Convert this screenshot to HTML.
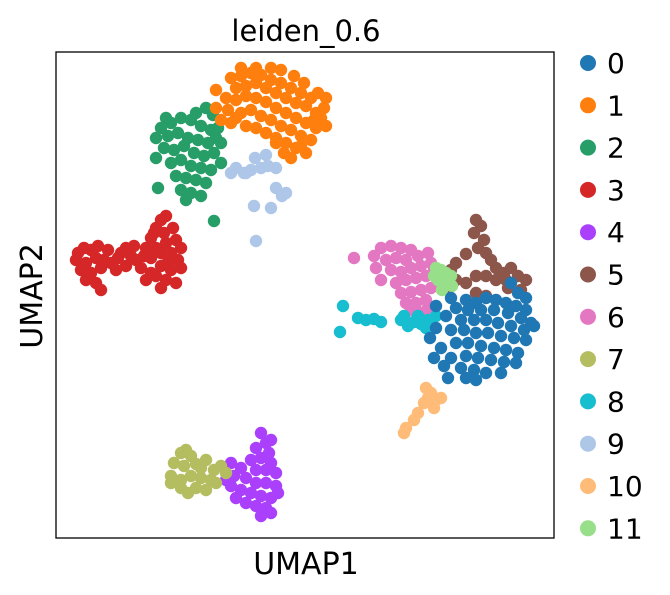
<!DOCTYPE html>
<html><head><meta charset="utf-8"><style>
html,body{margin:0;padding:0;background:#fff;}
svg{display:block;font-family:"DejaVu Sans","Liberation Sans",sans-serif;}
</style></head><body>
<svg id="chart" width="670" height="595">
<text x="306" y="41" text-anchor="middle" font-size="29" fill="#000">leiden_0.6</text>
<g id="points"></g>
<rect x="56" y="52" width="498" height="486" fill="none" stroke="#000" stroke-width="1.3"/>
<text x="306" y="574" text-anchor="middle" font-size="30" fill="#000">UMAP1</text>
<text x="0" y="0" transform="translate(42,296) rotate(-90)" text-anchor="middle" font-size="30" fill="#000">UMAP2</text>
<g id="legend"></g>
</svg>
<script>
const clusterNames=["0","1","2","3","4","5","6","7","8","9","10","11"];
const clusterColors=["#1f77b4","#ff7f0e","#279e68","#d62728","#aa40fc","#8c564b","#e377c2","#b5bd61","#17becf","#aec7e8","#ffbb78","#98df8a"];
const c3=[[22,285],[28,290],[35,288],[42,292],[20,278],[30,275],[40,280],[48,278],[25,268],[35,265],[45,270],[55,275],[62,280],[70,290],[78,292],[60,268],[70,272],[80,278],[88,282],[40,255],[45,248],[30,258],[95,300],[100,310],[105,318],[110,322],[100,290],[110,295],[120,298],[125,290],[90,290],[95,280],[105,285],[115,285],[122,278],[85,270],[95,265],[105,272],[115,268],[125,270],[90,258],[100,262],[110,258],[120,255],[105,250],[98,305],[108,305],[75,282],[52,288],[65,285],[117,310],[112,276]];
const c2=[[105,410],[115,415],[125,420],[135,418],[145,412],[155,408],[100,400],[112,402],[122,405],[132,400],[142,398],[152,395],[160,400],[108,390],[118,388],[128,392],[138,385],[148,382],[158,385],[165,375],[115,375],[125,378],[135,372],[145,370],[155,368],[120,362],[130,360],[140,358],[150,355],[125,348],[135,345],[145,342],[130,338],[102,350],[158,317],[157,423],[140,425],[100,380],[165,395],[150,430],[110,420],[162,410]];
const c1=[[175,460],[185,462],[195,465],[205,463],[215,458],[225,455],[235,450],[245,445],[180,450],[190,452],[200,455],[210,450],[220,445],[230,440],[240,435],[250,432],[260,425],[170,440],[180,438],[190,442],[200,440],[210,436],[220,430],[230,425],[240,420],[250,415],[260,410],[265,420],[160,430],[172,428],[185,425],[195,428],[205,422],[215,418],[225,412],[235,408],[245,402],[255,398],[230,395],[240,390],[250,385],[235,380],[245,392],[165,418],[175,415],[190,412],[200,410],[210,405],[220,400],[255,440],[268,430],[262,445],[160,448],[270,412],[225,468],[200,470],[185,470],[238,462],[228,385],[220,395],[215,470],[248,455],[270,440],[258,418],[180,420]];
const c9=[[180,370],[188,365],[195,368],[205,370],[212,372],[220,370],[199,380],[210,383],[230,345],[226,342],[220,350],[215,330],[198,332],[200,297],[190,365],[175,365]];
const c4=[[205,105],[210,95],[200,90],[213,85],[205,80],[195,78],[215,75],[220,65],[210,68],[200,68],[185,70],[178,62],[190,60],[200,55],[210,55],[220,52],[175,52],[185,48],[195,45],[205,42],[215,40],[222,45],[190,35],[200,32],[210,30],[205,22],[215,25],[180,40],[170,58],[175,75],[215,98]];
const c7=[[125,85],[135,82],[118,75],[128,72],[140,74],[150,78],[158,68],[165,72],[170,65],[115,62],[125,58],[135,62],[145,60],[155,58],[115,55],[125,50],[140,50],[150,48],[160,55],[132,45],[145,70],[130,88]];
const c6=[[298,280],[325,290],[335,292],[345,290],[355,288],[340,280],[350,278],[362,282],[372,285],[330,278],[320,270],[335,268],[345,266],[355,270],[365,272],[375,275],[325,258],[340,255],[350,258],[360,260],[370,262],[378,268],[345,245],[355,246],[365,248],[375,250],[350,235],[360,235],[370,238],[355,228],[365,225],[372,230],[385,255],[318,282]];
const c5=[[420,318],[425,312],[418,305],[428,298],[422,290],[430,285],[435,278],[400,275],[395,268],[440,270],[448,265],[455,270],[462,262],[470,258],[450,258],[440,258],[430,262],[420,262],[410,255],[400,258],[390,250],[452,250],[465,248],[420,245],[430,242],[410,284]];
const c8=[[287,232],[284,206],[302,220],[310,218],[318,219],[325,216],[345,218],[352,212],[358,216],[365,214],[372,218],[380,222],[348,222],[362,222],[370,210]];
const c11=[[378,262],[385,268],[390,265],[395,262],[382,258],[390,255],[396,252],[386,248],[380,270]];
const c0=[[395,240],[410,238],[420,235],[430,240],[440,238],[450,235],[460,232],[470,228],[400,230],[412,228],[425,228],[438,228],[452,225],[465,220],[475,215],[390,222],[405,218],[418,218],[430,218],[442,215],[455,212],[468,208],[380,210],[395,208],[408,208],[420,205],[432,205],[445,202],[458,200],[470,198],[400,195],[412,195],[425,192],[438,190],[450,188],[462,185],[410,182],[422,180],[435,178],[448,176],[460,175],[405,170],[418,168],[430,165],[445,165],[410,160],[420,158],[385,190],[378,180],[388,172],[374,200],[395,180],[470,240],[478,212],[462,245],[455,255],[380,232],[392,160]];
const c10=[[370,150],[372,140],[375,135],[380,138],[385,140],[368,135],[378,130],[362,125],[358,118],[350,110],[348,105],[375,145]];

const NS="http://www.w3.org/2000/svg";
const xDom=[0,498], yDom=[0,486];
function xs(v){return 56+(v-xDom[0])/(xDom[1]-xDom[0])*498;}
function ys(v){return 538-(v-yDom[0])/(yDom[1]-yDom[0])*486;}
const series=[[0,c0],[1,c1],[2,c2],[3,c3],[4,c4],[5,c5],[6,c6],[7,c7],[8,c8],[9,c9],[10,c10],[11,c11]];
const drawOrder=[3,2,1,9,4,7,6,5,11,8,0,10];
const g=document.getElementById('points');
drawOrder.forEach(ci=>{
  const grp=document.createElementNS(NS,'g');
  
  
  series[ci][1].forEach(p=>{
    const c=document.createElementNS(NS,'circle');
    c.setAttribute('cx',xs(p[0]));c.setAttribute('cy',ys(p[1]));c.setAttribute('r',6.2);
    c.setAttribute('fill',clusterColors[ci]);
    
    
    grp.appendChild(c);
  });
  g.appendChild(grp);
});
const lg=document.getElementById('legend');
clusterNames.forEach((n,i)=>{
  const y=63+i*42.3;
  const e=document.createElementNS(NS,'g');
  
  
  const c=document.createElementNS(NS,'circle');
  c.setAttribute('cx',588);c.setAttribute('cy',y);c.setAttribute('r',8);c.setAttribute('fill',clusterColors[i]);
  
  
  const t=document.createElementNS(NS,'text');
  t.setAttribute('x',607);t.setAttribute('y',y+10);t.setAttribute('font-size','28');t.textContent=n;
  
  
  e.appendChild(c);e.appendChild(t);lg.appendChild(e);
});
</script>
</body></html>
